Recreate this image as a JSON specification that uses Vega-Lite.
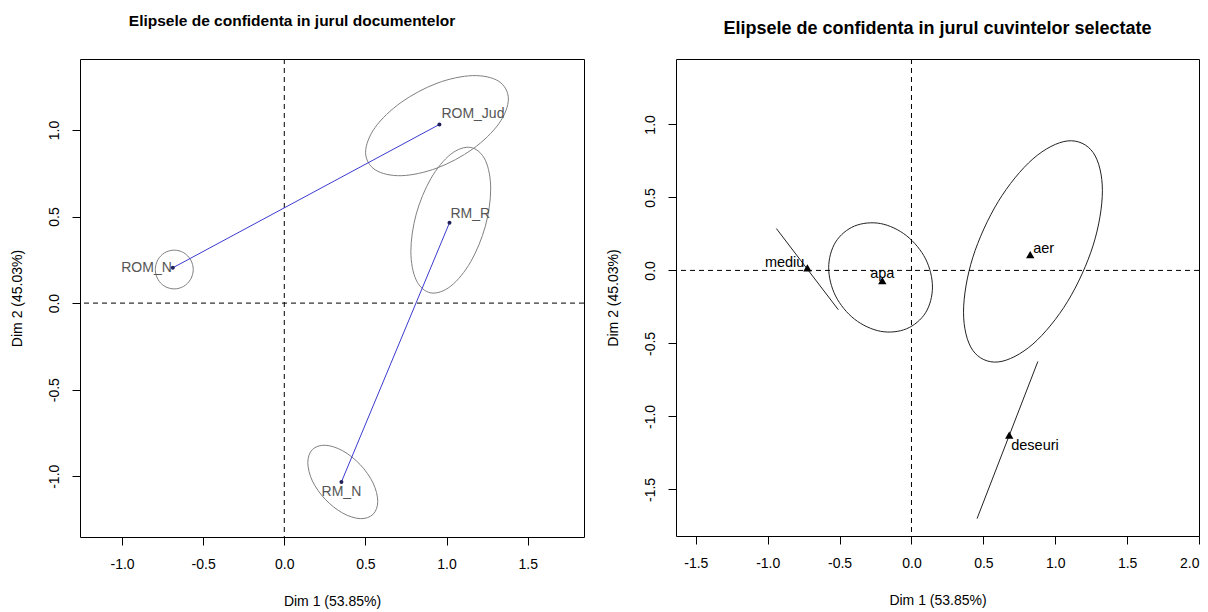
{
  "$schema": "https://vega.github.io/schema/vega-lite/v6.json",
  "background": "white",
  "padding": {"left": 9, "top": 13, "right": 0, "bottom": 0},
  "bounds": "flush",
  "spacing": 92,
  "config": {
    "view": {"stroke": "#000", "strokeWidth": 1},
    "axis": {"grid": false, "domain": false, "tickColor": "#000", "tickSize": 8, "labelFont": "Liberation Sans", "labelFontSize": 14, "labelColor": "#000", "titleFont": "Liberation Sans", "titleFontSize": 14, "titleFontWeight": "normal", "titleColor": "#000"}
  },
  "datasets": {
    "docs": [
      {"doc": "ROM_N", "x": -0.687, "y": 0.204},
      {"doc": "ROM_Jud", "x": 0.956, "y": 1.032},
      {"doc": "RM_R", "x": 1.018, "y": 0.464},
      {"doc": "RM_N", "x": 0.352, "y": -1.033}
    ],
    "docLinks": [
      {"pair": "ROM", "o": 1, "x": -0.687, "y": 0.204},
      {"pair": "ROM", "o": 2, "x": 0.956, "y": 1.032},
      {"pair": "RM", "o": 1, "x": 0.352, "y": -1.033},
      {"pair": "RM", "o": 2, "x": 1.018, "y": 0.464}
    ],
    "docEll": [
      {"doc": "ROM_N", "i": 0, "x": -0.561, "y": 0.194},
      {"doc": "ROM_N", "i": 1, "x": -0.577, "y": 0.250},
      {"doc": "ROM_N", "i": 2, "x": -0.620, "y": 0.291},
      {"doc": "ROM_N", "i": 3, "x": -0.678, "y": 0.306},
      {"doc": "ROM_N", "i": 4, "x": -0.737, "y": 0.291},
      {"doc": "ROM_N", "i": 5, "x": -0.779, "y": 0.250},
      {"doc": "ROM_N", "i": 6, "x": -0.795, "y": 0.194},
      {"doc": "ROM_N", "i": 7, "x": -0.779, "y": 0.138},
      {"doc": "ROM_N", "i": 8, "x": -0.737, "y": 0.097},
      {"doc": "ROM_N", "i": 9, "x": -0.678, "y": 0.082},
      {"doc": "ROM_N", "i": 10, "x": -0.620, "y": 0.097},
      {"doc": "ROM_N", "i": 11, "x": -0.577, "y": 0.138},
      {"doc": "ROM_Jud", "i": 0, "x": 1.381, "y": 1.179},
      {"doc": "ROM_Jud", "i": 1, "x": 1.322, "y": 1.281},
      {"doc": "ROM_Jud", "i": 2, "x": 1.161, "y": 1.314},
      {"doc": "ROM_Jud", "i": 3, "x": 0.941, "y": 1.270},
      {"doc": "ROM_Jud", "i": 4, "x": 0.721, "y": 1.160},
      {"doc": "ROM_Jud", "i": 5, "x": 0.560, "y": 1.015},
      {"doc": "ROM_Jud", "i": 6, "x": 0.501, "y": 0.871},
      {"doc": "ROM_Jud", "i": 7, "x": 0.560, "y": 0.770},
      {"doc": "ROM_Jud", "i": 8, "x": 0.721, "y": 0.736},
      {"doc": "ROM_Jud", "i": 9, "x": 0.941, "y": 0.780},
      {"doc": "ROM_Jud", "i": 10, "x": 1.161, "y": 0.890},
      {"doc": "ROM_Jud", "i": 11, "x": 1.322, "y": 1.036},
      {"doc": "RM_R", "i": 0, "x": 1.272, "y": 0.659},
      {"doc": "RM_R", "i": 1, "x": 1.239, "y": 0.825},
      {"doc": "RM_R", "i": 2, "x": 1.149, "y": 0.899},
      {"doc": "RM_R", "i": 3, "x": 1.026, "y": 0.860},
      {"doc": "RM_R", "i": 4, "x": 0.903, "y": 0.719},
      {"doc": "RM_R", "i": 5, "x": 0.813, "y": 0.514},
      {"doc": "RM_R", "i": 6, "x": 0.780, "y": 0.299},
      {"doc": "RM_R", "i": 7, "x": 0.813, "y": 0.133},
      {"doc": "RM_R", "i": 8, "x": 0.903, "y": 0.059},
      {"doc": "RM_R", "i": 9, "x": 1.026, "y": 0.098},
      {"doc": "RM_R", "i": 10, "x": 1.149, "y": 0.239},
      {"doc": "RM_R", "i": 11, "x": 1.239, "y": 0.444},
      {"doc": "RM_N", "i": 0, "x": 0.576, "y": -1.145},
      {"doc": "RM_N", "i": 1, "x": 0.547, "y": -1.039},
      {"doc": "RM_N", "i": 2, "x": 0.468, "y": -0.933},
      {"doc": "RM_N", "i": 3, "x": 0.360, "y": -0.853},
      {"doc": "RM_N", "i": 4, "x": 0.252, "y": -0.821},
      {"doc": "RM_N", "i": 5, "x": 0.173, "y": -0.846},
      {"doc": "RM_N", "i": 6, "x": 0.145, "y": -0.921},
      {"doc": "RM_N", "i": 7, "x": 0.173, "y": -1.027},
      {"doc": "RM_N", "i": 8, "x": 0.252, "y": -1.133},
      {"doc": "RM_N", "i": 9, "x": 0.360, "y": -1.213},
      {"doc": "RM_N", "i": 10, "x": 0.468, "y": -1.245},
      {"doc": "RM_N", "i": 11, "x": 0.547, "y": -1.220}
    ],
    "words": [
      {"word": "mediu", "x": -0.724, "y": 0.017},
      {"word": "apa", "x": -0.203, "y": -0.070},
      {"word": "aer", "x": 0.826, "y": 0.108},
      {"word": "deseuri", "x": 0.680, "y": -1.128}
    ],
    "wordEll": [
      {"word": "apa", "i": 0, "x": 0.146, "y": -0.114},
      {"word": "apa", "i": 1, "x": 0.098, "y": 0.079},
      {"word": "apa", "i": 2, "x": -0.035, "y": 0.238},
      {"word": "apa", "i": 3, "x": -0.215, "y": 0.321},
      {"word": "apa", "i": 4, "x": -0.396, "y": 0.304},
      {"word": "apa", "i": 5, "x": -0.528, "y": 0.194},
      {"word": "apa", "i": 6, "x": -0.576, "y": 0.018},
      {"word": "apa", "i": 7, "x": -0.528, "y": -0.175},
      {"word": "apa", "i": 8, "x": -0.396, "y": -0.334},
      {"word": "apa", "i": 9, "x": -0.215, "y": -0.417},
      {"word": "apa", "i": 10, "x": -0.035, "y": -0.400},
      {"word": "apa", "i": 11, "x": 0.098, "y": -0.290},
      {"word": "aer", "i": 0, "x": 1.328, "y": 0.546},
      {"word": "aer", "i": 1, "x": 1.264, "y": 0.807},
      {"word": "aer", "i": 2, "x": 1.087, "y": 0.887},
      {"word": "aer", "i": 3, "x": 0.845, "y": 0.764},
      {"word": "aer", "i": 4, "x": 0.603, "y": 0.471},
      {"word": "aer", "i": 5, "x": 0.426, "y": 0.087},
      {"word": "aer", "i": 6, "x": 0.362, "y": -0.286},
      {"word": "aer", "i": 7, "x": 0.426, "y": -0.547},
      {"word": "aer", "i": 8, "x": 0.603, "y": -0.627},
      {"word": "aer", "i": 9, "x": 0.845, "y": -0.504},
      {"word": "aer", "i": 10, "x": 1.087, "y": -0.211},
      {"word": "aer", "i": 11, "x": 1.264, "y": 0.173}
    ],
    "wordSeg": [
      {"word": "mediu", "i": 0, "x": -0.940, "y": 0.287},
      {"word": "mediu", "i": 1, "x": -0.509, "y": -0.269},
      {"word": "deseuri", "i": 0, "x": 0.879, "y": -0.624},
      {"word": "deseuri", "i": 1, "x": 0.456, "y": -1.700}
    ]
  },
  "hconcat": [
    {
      "width": 504,
      "height": 478,
      "title": {"text": "Elipsele de confidenta in jurul documentelor", "font": "Liberation Sans", "fontSize": 15.5, "fontWeight": "bold", "color": "#000", "offset": 29, "anchor": "middle", "dx": -40},
      "layer": [
        {
          "data": {"name": "docEll"},
          "mark": {"type": "line", "interpolate": "cardinal-closed", "color": "#808080", "strokeWidth": 1},
          "encoding": {
            "x": {"field": "x", "type": "quantitative", "title": "Dim 1 (53.85%)", "scale": {"domain": [-1.259, 1.847], "nice": false, "zero": false},
                  "axis": {"values": [-1, -0.5, 0, 0.5, 1, 1.5], "labelExpr": "replace(format(datum.value, '.1f'), '\u2212', '-')", "labelPadding": 12, "titlePadding": 23}},
            "y": {"field": "y", "type": "quantitative", "title": "Dim 2 (45.03%)", "scale": {"domain": [-1.351, 1.41], "nice": false, "zero": false},
                  "axis": {"values": [-1, -0.5, 0, 0.5, 1], "labelExpr": "replace(format(datum.value, '.1f'), '\u2212', '-')", "labelAngle": -90, "labelPadding": 11, "titlePadding": 23}},
            "detail": {"field": "doc"},
            "order": {"field": "i"}
          }
        },
        {
          "data": {"values": [{}]},
          "mark": {"type": "rule", "strokeDash": [5, 4], "color": "#000", "strokeWidth": 1},
          "encoding": {"x": {"datum": 0, "type": "quantitative", "title": "Dim 1 (53.85%)"}}
        },
        {
          "data": {"values": [{}]},
          "mark": {"type": "rule", "strokeDash": [5, 4], "color": "#000", "strokeWidth": 1},
          "encoding": {"y": {"datum": 0, "type": "quantitative", "title": "Dim 2 (45.03%)"}}
        },
        {
          "data": {"name": "docLinks"},
          "mark": {"type": "line", "color": "#3b3bcf", "strokeWidth": 1},
          "encoding": {
            "x": {"field": "x", "type": "quantitative", "title": "Dim 1 (53.85%)"},
            "y": {"field": "y", "type": "quantitative", "title": "Dim 2 (45.03%)"},
            "detail": {"field": "pair"},
            "order": {"field": "o"}
          }
        },
        {
          "data": {"name": "docs"},
          "mark": {"type": "circle", "size": 16, "color": "#20205a", "opacity": 1},
          "encoding": {
            "x": {"field": "x", "type": "quantitative", "title": "Dim 1 (53.85%)"},
            "y": {"field": "y", "type": "quantitative", "title": "Dim 2 (45.03%)"}
          }
        },
        {
          "data": {"name": "docs"},
          "transform": [{"filter": "datum.doc == 'ROM_Jud'"}],
          "mark": {"type": "text", "font": "Liberation Sans", "fontSize": 14, "color": "#555", "align": "left", "baseline": "middle", "dx": 2, "dy": -10},
          "encoding": {"x": {"field": "x", "type": "quantitative", "title": "Dim 1 (53.85%)"}, "y": {"field": "y", "type": "quantitative", "title": "Dim 2 (45.03%)"}, "text": {"field": "doc"}}
        },
        {
          "data": {"name": "docs"},
          "transform": [{"filter": "datum.doc == 'RM_R'"}],
          "mark": {"type": "text", "font": "Liberation Sans", "fontSize": 14, "color": "#555", "align": "left", "baseline": "middle", "dx": 1, "dy": -9},
          "encoding": {"x": {"field": "x", "type": "quantitative", "title": "Dim 1 (53.85%)"}, "y": {"field": "y", "type": "quantitative", "title": "Dim 2 (45.03%)"}, "text": {"field": "doc"}}
        },
        {
          "data": {"name": "docs"},
          "transform": [{"filter": "datum.doc == 'ROM_N'"}],
          "mark": {"type": "text", "font": "Liberation Sans", "fontSize": 14, "color": "#555", "align": "right", "baseline": "middle", "dx": -1, "dy": 0},
          "encoding": {"x": {"field": "x", "type": "quantitative", "title": "Dim 1 (53.85%)"}, "y": {"field": "y", "type": "quantitative", "title": "Dim 2 (45.03%)"}, "text": {"field": "doc"}}
        },
        {
          "data": {"name": "docs"},
          "transform": [{"filter": "datum.doc == 'RM_N'"}],
          "mark": {"type": "text", "font": "Liberation Sans", "fontSize": 14, "color": "#555", "align": "center", "baseline": "middle", "dx": 0, "dy": 10},
          "encoding": {"x": {"field": "x", "type": "quantitative", "title": "Dim 1 (53.85%)"}, "y": {"field": "y", "type": "quantitative", "title": "Dim 2 (45.03%)"}, "text": {"field": "doc"}}
        }
      ]
    },
    {
      "width": 523,
      "height": 477,
      "title": {"text": "Elipsele de confidenta in jurul cuvintelor selectate", "font": "Liberation Sans", "fontSize": 18, "fontWeight": "bold", "color": "#000", "offset": 21, "anchor": "middle"},
      "layer": [
        {
          "data": {"name": "wordEll"},
          "mark": {"type": "line", "interpolate": "cardinal-closed", "color": "#222", "strokeWidth": 1},
          "encoding": {
            "x": {"field": "x", "type": "quantitative", "title": "Dim 1 (53.85%)", "scale": {"domain": [-1.638, 2.0], "nice": false, "zero": false},
                  "axis": {"values": [-1.5, -1, -0.5, 0, 0.5, 1, 1.5, 2], "labelExpr": "replace(format(datum.value, '.1f'), '\u2212', '-')", "labelPadding": 12, "titlePadding": 23}},
            "y": {"field": "y", "type": "quantitative", "title": "Dim 2 (45.03%)", "scale": {"domain": [-1.819, 1.448], "nice": false, "zero": false},
                  "axis": {"values": [-1.5, -1, -0.5, 0, 0.5, 1], "labelExpr": "replace(format(datum.value, '.1f'), '\u2212', '-')", "labelAngle": -90, "labelPadding": 11, "titlePadding": 23}},
            "detail": {"field": "word"},
            "order": {"field": "i"}
          }
        },
        {
          "data": {"name": "wordSeg"},
          "mark": {"type": "line", "color": "#222", "strokeWidth": 1},
          "encoding": {
            "x": {"field": "x", "type": "quantitative", "title": "Dim 1 (53.85%)"},
            "y": {"field": "y", "type": "quantitative", "title": "Dim 2 (45.03%)"},
            "detail": {"field": "word"},
            "order": {"field": "i"}
          }
        },
        {
          "data": {"values": [{}]},
          "mark": {"type": "rule", "strokeDash": [5, 4], "color": "#000", "strokeWidth": 1},
          "encoding": {"x": {"datum": 0, "type": "quantitative", "title": "Dim 1 (53.85%)"}}
        },
        {
          "data": {"values": [{}]},
          "mark": {"type": "rule", "strokeDash": [5, 4], "color": "#000", "strokeWidth": 1},
          "encoding": {"y": {"datum": 0, "type": "quantitative", "title": "Dim 2 (45.03%)"}}
        },
        {
          "data": {"name": "words"},
          "mark": {"type": "point", "shape": "triangle-up", "filled": true, "size": 70, "color": "#000", "opacity": 1},
          "encoding": {
            "x": {"field": "x", "type": "quantitative", "title": "Dim 1 (53.85%)"},
            "y": {"field": "y", "type": "quantitative", "title": "Dim 2 (45.03%)"}
          }
        },
        {
          "data": {"name": "words"},
          "transform": [{"filter": "datum.word == 'mediu'"}],
          "mark": {"type": "text", "font": "Liberation Sans", "fontSize": 14.5, "color": "#000", "align": "right", "baseline": "middle", "dx": -3, "dy": -5},
          "encoding": {"x": {"field": "x", "type": "quantitative", "title": "Dim 1 (53.85%)"}, "y": {"field": "y", "type": "quantitative", "title": "Dim 2 (45.03%)"}, "text": {"field": "word"}}
        },
        {
          "data": {"name": "words"},
          "transform": [{"filter": "datum.word == 'apa'"}],
          "mark": {"type": "text", "font": "Liberation Sans", "fontSize": 14.5, "color": "#000", "align": "center", "baseline": "middle", "dx": 0, "dy": -7},
          "encoding": {"x": {"field": "x", "type": "quantitative", "title": "Dim 1 (53.85%)"}, "y": {"field": "y", "type": "quantitative", "title": "Dim 2 (45.03%)"}, "text": {"field": "word"}}
        },
        {
          "data": {"name": "words"},
          "transform": [{"filter": "datum.word == 'aer'"}],
          "mark": {"type": "text", "font": "Liberation Sans", "fontSize": 14.5, "color": "#000", "align": "left", "baseline": "middle", "dx": 3, "dy": -6},
          "encoding": {"x": {"field": "x", "type": "quantitative", "title": "Dim 1 (53.85%)"}, "y": {"field": "y", "type": "quantitative", "title": "Dim 2 (45.03%)"}, "text": {"field": "word"}}
        },
        {
          "data": {"name": "words"},
          "transform": [{"filter": "datum.word == 'deseuri'"}],
          "mark": {"type": "text", "font": "Liberation Sans", "fontSize": 14.5, "color": "#000", "align": "left", "baseline": "middle", "dx": 2, "dy": 11},
          "encoding": {"x": {"field": "x", "type": "quantitative", "title": "Dim 1 (53.85%)"}, "y": {"field": "y", "type": "quantitative", "title": "Dim 2 (45.03%)"}, "text": {"field": "word"}}
        }
      ]
    }
  ]
}
